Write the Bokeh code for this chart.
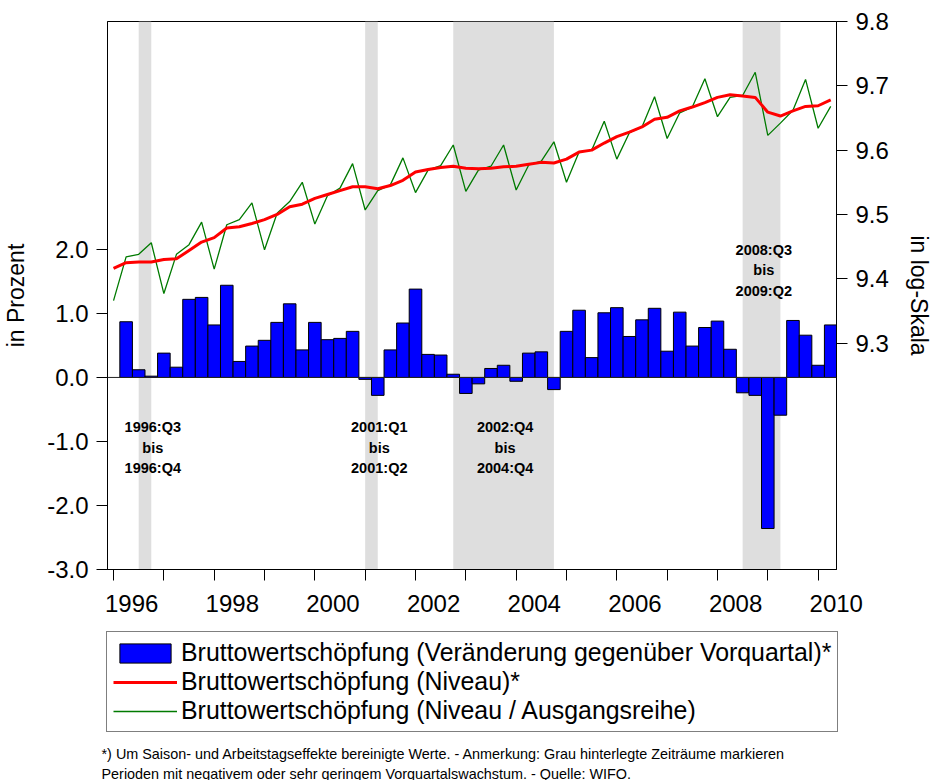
from bokeh.plotting import figure
from bokeh.layouts import column
from bokeh.models import (Range1d, LinearAxis, FixedTicker, NumeralTickFormatter,
                          CustomJSTickFormatter, BoxAnnotation, Span, Legend,
                          LegendItem, ColumnDataSource, Label)
from bokeh.core.properties import value
from bokeh.embed import file_html
from bokeh.resources import INLINE

# ---------------- data ----------------
periods = [f"{y}Q{q}" for y in range(1996, 2011) for q in range(1, 5)][:58]   # 1996Q1..2010Q2

level_raw = [   # Bruttowertschöpfung (Niveau / Ausgangsreihe), log
    9.366, 9.434, 9.438, 9.456,
    9.377, 9.438, 9.453, 9.488,
    9.415, 9.484, 9.492, 9.518,
    9.445, 9.502, 9.520, 9.550,
    9.485, 9.529, 9.541, 9.579,
    9.507, 9.537, 9.546, 9.588,
    9.534, 9.569, 9.576, 9.608,
    9.536, 9.569, 9.575, 9.608,
    9.538, 9.577, 9.583, 9.613,
    9.550, 9.597, 9.600, 9.645,
    9.586, 9.627, 9.636, 9.683,
    9.618, 9.658, 9.667, 9.711,
    9.652, 9.682, 9.685, 9.721,
    9.623, 9.642, 9.662, 9.710,
    9.634, 9.668,
]
level_sa = [    # Bruttowertschöpfung (Niveau)*, log
    9.416, 9.425, 9.426, 9.426,
    9.430, 9.431, 9.444, 9.457,
    9.464, 9.479, 9.481, 9.486,
    9.492, 9.500, 9.512, 9.516,
    9.525, 9.531, 9.537, 9.543,
    9.543, 9.540, 9.545, 9.553,
    9.566, 9.570, 9.573, 9.575,
    9.572, 9.571, 9.572, 9.574,
    9.575, 9.578, 9.581, 9.580,
    9.586, 9.597, 9.600, 9.611,
    9.621, 9.628, 9.636, 9.648,
    9.651, 9.661, 9.667, 9.674,
    9.682, 9.686, 9.684, 9.682,
    9.659, 9.653, 9.661, 9.668,
    9.669, 9.678,
]
growth_periods = periods[1:]     # 1996Q2..2010Q2
growth = [      # Veränderung gegenüber Vorquartal, in %
    0.87, 0.12, 0.02,
    0.38, 0.16, 1.22, 1.25,
    0.82, 1.44, 0.25, 0.49,
    0.58, 0.86, 1.15, 0.43,
    0.86, 0.59, 0.61, 0.72,
    -0.03, -0.28, 0.43, 0.85,
    1.38, 0.36, 0.35, 0.05,
    -0.25, -0.10, 0.14, 0.19,
    -0.06, 0.38, 0.40, -0.19,
    0.72, 1.05, 0.31, 1.01,
    1.09, 0.64, 0.90, 1.08,
    0.41, 1.02, 0.49, 0.78,
    0.88, 0.44, -0.24, -0.28,
    -2.36, -0.59, 0.89, 0.66,
    0.19, 0.82,
]
shade_start = ["1996Q3", "2001Q1", "2002Q4", "2008Q3"]
shade_end = ["1996Q4", "2001Q2", "2004Q4", "2009Q2"]

left_ticks = [-3, -2, -1, 0, 1, 2]
right_ticks = [9.3, 9.4, 9.5, 9.6, 9.7, 9.8]
year_ticks = list(range(1996, 2011))
label_years = list(range(1996, 2011, 2))

legend_labels = ["Bruttowertschöpfung (Veränderung gegenüber Vorquartal)*",
                 "Bruttowertschöpfung (Niveau)*",
                 "Bruttowertschöpfung (Niveau / Ausgangsreihe)"]
footnote1 = ("*) Um Saison- und Arbeitstagseffekte bereinigte Werte. - Anmerkung: "
             "Grau hinterlegte Zeiträume markieren")
footnote2 = ("Perioden mit negativem oder sehr geringem Vorquartalswachstum. - Quelle: WIFO.")


def qx(p):
    return int(p[:4]) + (int(p[5]) - 1) / 4.0


FONT = "Liberation Sans"
BLUE, RED, GREEN = "#0000FF", "#FF0000", "#007A00"
W = 934

# ---------------- main chart ----------------
p = figure(width=W, height=620, output_backend="svg", toolbar_location=None,
           x_range=Range1d(1995.88, 2010.365), y_range=Range1d(-3.0, 5.56),
           min_border_left=107, min_border_right=96, min_border_top=21,
           min_border_bottom=51)
p.frame_align = False
p.extra_y_ranges = {"lvl": Range1d(8.948, 9.8)}
p.xgrid.visible = False
p.ygrid.visible = False
p.outline_line_color = "black"
p.outline_line_width = 1

for s, e in zip(shade_start, shade_end):
    p.add_layout(BoxAnnotation(left=qx(s), right=qx(e), fill_color="#DEDEDE",
                               fill_alpha=1.0, line_alpha=0, level="underlay"))

p.add_layout(Span(location=0, dimension="width", line_color="#222222", line_width=1))

src_bar = ColumnDataSource(dict(x=[qx(q) for q in growth_periods], top=growth))
p.vbar(x="x", top="top", bottom=0, width=0.25, source=src_bar,
       fill_color=BLUE, line_color="black", line_width=1)

src_lvl = ColumnDataSource(dict(x=[qx(q) for q in periods], raw=level_raw, sa=level_sa))
p.line("x", "raw", source=src_lvl, y_range_name="lvl", line_color=GREEN, line_width=1.3)
p.line("x", "sa", source=src_lvl, y_range_name="lvl", line_color=RED, line_width=3)

ann = [
    (1996.78, ["1996:Q3", "bis", "1996:Q4"], [-0.77, -1.10, -1.41]),
    (2001.28, ["2001:Q1", "bis", "2001:Q2"], [-0.77, -1.10, -1.41]),
    (2003.78, ["2002:Q4", "bis", "2004:Q4"], [-0.77, -1.10, -1.41]),
    (2008.92, ["2008:Q3", "bis", "2009:Q2"], [1.99, 1.68, 1.35]),
]
ax, ay, at = [], [], []
for x, texts, ys in ann:
    for t, y in zip(texts, ys):
        ax.append(x); ay.append(y); at.append(t)
p.text(x=ax, y=ay, text=at, text_align="center", text_baseline="middle",
       text_font=value(FONT), text_font_size="14.5px", text_font_style="bold",
       text_color="black")

yl = p.yaxis[0]
yl.ticker = FixedTicker(ticks=left_ticks)
yl.formatter = NumeralTickFormatter(format="0.0")
yl.axis_label = "in Prozent"

yr = LinearAxis(y_range_name="lvl", ticker=FixedTicker(ticks=right_ticks),
                axis_label="in log-Skala")
p.add_layout(yr, "right")

xa = p.xaxis[0]
xa.ticker = FixedTicker(ticks=[y + 0.36 for y in label_years], minor_ticks=year_ticks)
xa.formatter = CustomJSTickFormatter(code="return Math.floor(tick).toString();")

for a in (yl, yr, xa):
    a.axis_line_color = "black"
    a.axis_line_width = 1
    a.major_tick_line_color = "black"
    a.major_tick_in = 0
    a.major_tick_out = 11
    a.minor_tick_line_color = None
    a.major_label_text_font = FONT
    a.major_label_text_font_size = "24px"
    a.major_label_text_color = "black"
    a.axis_label_text_font = FONT
    a.axis_label_text_font_size = "23px"
    a.axis_label_text_font_style = "normal"
    a.axis_label_text_color = "black"
    a.major_label_standoff = 8

yl.axis_label_standoff = 15
yr.axis_label_standoff = 14
xa.major_tick_out = 0
xa.minor_tick_out = 11
xa.minor_tick_in = 0
xa.minor_tick_line_color = "black"
xa.major_label_standoff = 14

# ---------------- legend + footnote panel ----------------
# pixel-based ranges; the series drawn here lie far outside the visible range and only
# serve as the legend's glyph sources
H2 = 160
p2 = figure(width=W, height=H2, output_backend="svg", toolbar_location=None,
            x_range=Range1d(0, W), y_range=Range1d(H2, 0),
            x_axis_type=None, y_axis_type=None,
            min_border_left=0, min_border_right=0, min_border_top=0, min_border_bottom=0)
p2.frame_align = False
p2.xgrid.visible = False
p2.ygrid.visible = False
p2.outline_line_color = None

lb = p2.vbar(x="x", top="top", bottom=0, width=0.25, source=src_bar,
             fill_color=BLUE, line_color="black", line_width=1)
lr = p2.line("x", "sa", source=src_lvl, line_color=RED, line_width=3)
lg = p2.line("x", "raw", source=src_lvl, line_color=GREEN, line_width=1.3)

legend = Legend(items=[LegendItem(label=legend_labels[0], renderers=[lb]),
                       LegendItem(label=legend_labels[1], renderers=[lr]),
                       LegendItem(label=legend_labels[2], renderers=[lg])],
                location=(106, 48), orientation="vertical",
                border_line_color="black", border_line_width=1, background_fill_alpha=1,
                label_text_font=FONT, label_text_font_size="24.9px", label_text_color="black",
                label_height=29, glyph_width=64, glyph_height=24, label_standoff=4,
                padding=6, spacing=0, margin=0)
p2.add_layout(legend, "center")

for txt, yy in ((footnote1, 133), (footnote2, 153)):
    p2.add_layout(Label(x=101, y=yy, text=txt, text_font=FONT, text_font_size="14.4px",
                        text_color="black", text_align="left", text_baseline="middle"))

open("out.html", "w").write(file_html(column(p, p2, spacing=0), INLINE))
